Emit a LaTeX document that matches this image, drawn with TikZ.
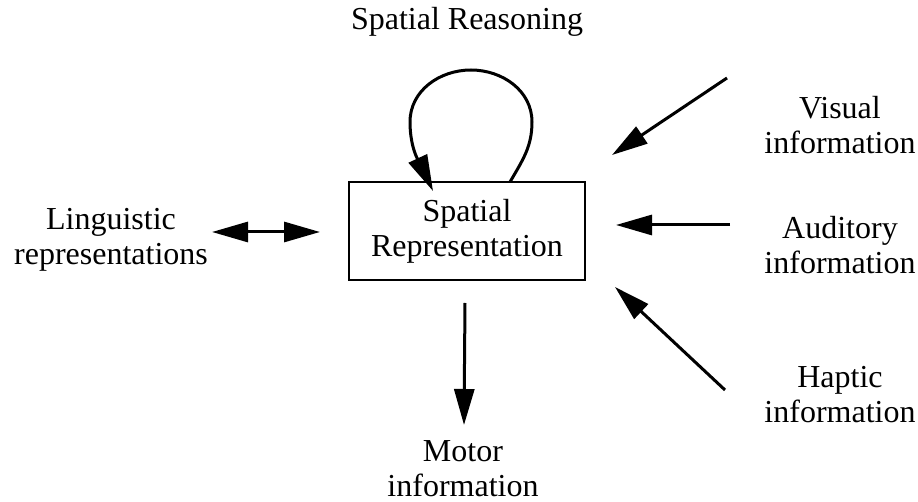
\documentclass[tikz,border=0pt]{standalone}
\usepackage{fontspec}
\setmainfont{Liberation Serif}
\usetikzlibrary{arrows.meta}
\begin{document}
\begin{tikzpicture}[x=0.5pt,y=-0.5pt,
  lbl/.style={align=center,inner sep=0pt,font=\fontsize{16}{17.5}\selectfont},
  conn/.style={line width=1.5pt,-{Triangle[length=18pt,width=10pt]}},
  dconn/.style={line width=1.5pt,{Triangle[length=18pt,width=10pt]}-{Triangle[length=18pt,width=10pt]}},
  boxst/.style={draw,line width=1.2pt,minimum width=118pt,minimum height=49pt,inner sep=0pt,align=center,font=\fontsize{16}{17.5}\selectfont}]
\useasboundingbox (0,0) rectangle (918,502);
\node[boxst] (sr) at (467,231) {Spatial\\Representation};
\node[lbl] (reas) at (467,22) {Spatial Reasoning};
\node[lbl] (vis) at (840,125) {Visual\\information};
\node[lbl] (aud) at (840,245) {Auditory\\information};
\node[lbl] (hap) at (840,395) {Haptic\\information};
\node[lbl] (mot) at (463,469) {Motor\\information};
\node[lbl] (ling) at (111,240) {Linguistic\\representations};
% free ends
\coordinate (visS) at (727,78);
\coordinate (visE) at (612,155);
\coordinate (audS) at (730,225);
\coordinate (audE) at (616,225);
\coordinate (hapS) at (725,390);
\coordinate (hapE) at (615,287);
\coordinate (motS) at (465,303);
\coordinate (motE) at (464,425);
\coordinate (linA) at (212,232);
\coordinate (linB) at (320,232);
\coordinate (loopS) at (510,182);
\coordinate (loopE) at (433,191);
\draw[conn] (visS) -- (visE);
\draw[conn] (audS) -- (audE);
\draw[conn] (hapS) -- (hapE);
\draw[conn] (motS) -- (motE);
\draw[dconn] (linA) -- (linB);
\draw[conn] (loopS) to[out=60,in=-90] (532,122) to[out=90,in=0] (471,70) to[out=180,in=90] (410,122) to[out=-90,in=115] (loopE);
\end{tikzpicture}
\end{document}
